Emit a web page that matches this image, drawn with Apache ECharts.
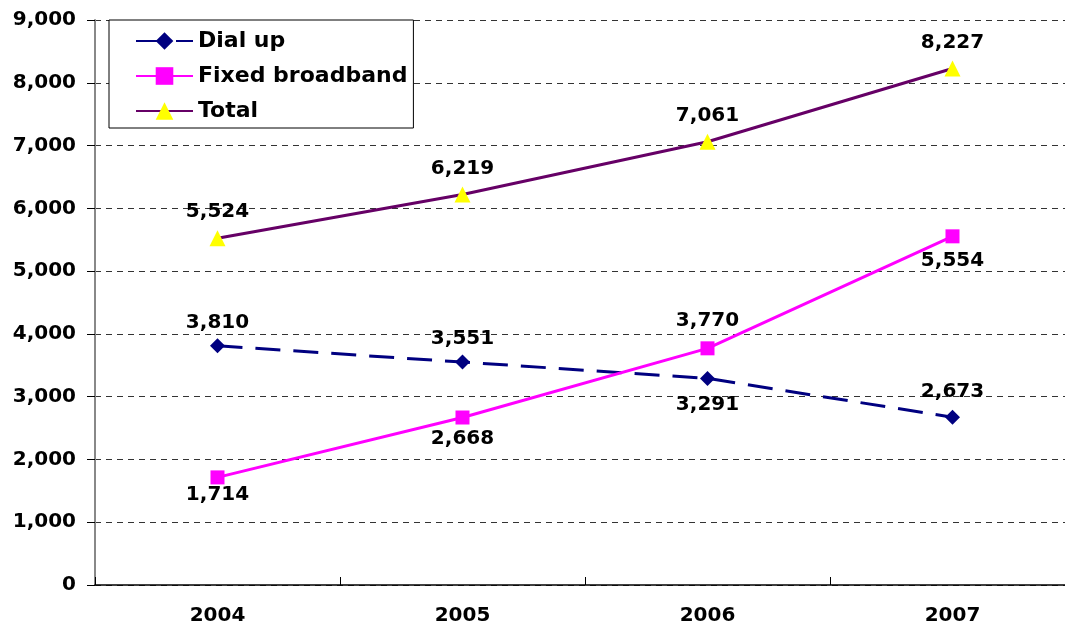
<!DOCTYPE html>
<html><head><meta charset="utf-8">
<script src="https://cdn.jsdelivr.net/npm/echarts@6/dist/echarts.min.js"></script>
<style>html,body{margin:0;padding:0;background:#fff}#c{width:1065px;height:631px}</style>
</head><body><div id="c"></div>
<script>
const categories = ['2004','2005','2006','2007'];
const dialUp = [3810, 3551, 3291, 2673];
const fixedBroadband = [1714, 2668, 3770, 5554];
const total = [5524, 6219, 7061, 8227];

// label placement (styling only)
const dialUpLabelPos = ['top','top','bottom','top'];
const dialUpLabelDist = [6, 6, 9, 8];
const fixedLabelPos = ['bottom','bottom','top','bottom'];
const fixedLabelDist = [0, 4, 11, 7];

const font = {fontFamily:'DejaVu Sans, Liberation Sans, Arial, sans-serif', fontWeight:'bold', fontSize:20, color:'#000'};
const fmt = v => Number(v).toLocaleString('en-US');

function withPos(vals, pos, dist){
  return vals.map((v,i)=>({value:v, label:{position:pos[i], distance:dist[i]}}));
}

const chart = echarts.init(document.getElementById('c'));
chart.setOption({
  animation:false,
  grid:{left:95, top:20, right:-10, bottom:46, outerBoundsMode:'none', containLabel:false},
  legend:{
    orient:'vertical', left:109, top:20,
    padding:[9,6,5,26],
    itemGap:11, itemWidth:57, itemHeight:22,
    backgroundColor:'#fff', borderColor:'#000', borderWidth:1,
    textStyle:Object.assign({}, font, {fontSize:22, lineHeight:24}),
    data:[
      {name:'Dial up', lineStyle:{type:[34,6]}},
      'Fixed broadband','Total']
  },
  xAxis:{
    type:'category', data:categories, boundaryGap:true,
    axisLine:{lineStyle:{color:'#000', width:1.5}},
    axisTick:{show:true, length:-8, lineStyle:{color:'#000'}},
    axisLabel:Object.assign({margin:21}, font)
  },
  yAxis:{
    type:'value', min:0, max:9000, interval:1000,
    axisLine:{show:true, lineStyle:{color:'#888', width:2}},
    axisTick:{show:true, length:8, lineStyle:{color:'#000'}},
    axisLabel:Object.assign({margin:19, formatter:fmt}, font),
    splitLine:{lineStyle:{color:'#333', type:[6,5], width:1}}
  },
  series:[
    {name:'Dial up', type:'line', data:withPos(dialUp, dialUpLabelPos, dialUpLabelDist),
     lineStyle:{color:'#000080', width:3, type:[25,13]},
     itemStyle:{color:'#000080'}, symbol:'diamond', symbolSize:15,
     label:{show:true, formatter:p=>fmt(p.value), ...font}},
    {name:'Fixed broadband', type:'line', data:withPos(fixedBroadband, fixedLabelPos, fixedLabelDist),
     lineStyle:{color:'#FF00FF', width:3},
     itemStyle:{color:'#FF00FF'}, symbol:'rect', symbolSize:14,
     label:{show:true, formatter:p=>fmt(p.value), ...font}},
    {name:'Total', type:'line', data:total,
     lineStyle:{color:'#660066', width:3},
     itemStyle:{color:'#FFFF00'}, symbol:'triangle', symbolSize:16,
     label:{show:true, position:'top', distance:8, formatter:p=>fmt(p.value), ...font}}
  ]
});
</script></body></html>
